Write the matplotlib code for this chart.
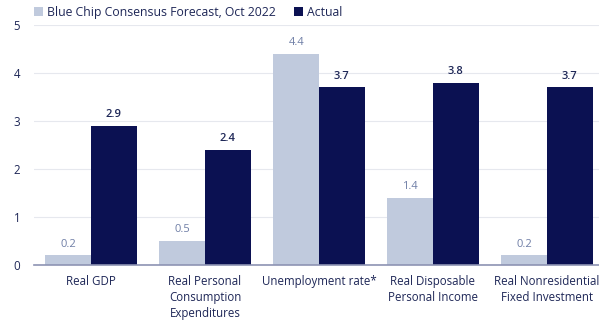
import numpy as np
import matplotlib
matplotlib.use("Agg")
import matplotlib.pyplot as plt

categories = ["Real GDP", "Real Personal\nConsumption\nExpenditures", "Unemployment rate*",
              "Real Disposable\nPersonal Income", "Real Nonresidential\nFixed Investment"]
forecast = [0.2, 0.5, 4.4, 1.4, 0.2]
actual = [2.9, 2.4, 3.7, 3.8, 3.7]
forecast_labels = ["0.2", "0.5", "4.4", "1.4", "0.2"]
actual_labels = ["2.9", "2.4", "3.7", "3.8", "3.7"]

light = "#c0cadd"
dark = "#0b1152"
text_col = "#1e2757"

plt.rcParams["font.family"] = ["Open Sans", "DejaVu Sans"]

fig = plt.figure(figsize=(5.99, 3.21), dpi=100)
ax = fig.add_axes([34 / 599, 1 - 265 / 321, 570 / 599, 240 / 321])

x = np.arange(len(categories))
w = 0.4
b1 = ax.bar(x - w / 2, forecast, w, color=light, label="Blue Chip Consensus Forecast, Oct 2022", zorder=2)
b2 = ax.bar(x + w / 2, actual, w, color=dark, label="Actual", zorder=2)

for rect, lab in zip(b1, forecast_labels):
    ax.text(rect.get_x() + rect.get_width() / 2, rect.get_height() + 0.12, lab,
            ha="center", va="bottom", fontsize=8, color="#6f7ea6")
for rect, lab in zip(b2, actual_labels):
    ax.text(rect.get_x() + rect.get_width() / 2, rect.get_height() + 0.12, lab,
            ha="center", va="bottom", fontsize=8, color=text_col, fontweight="semibold")

ax.set_xlim(-0.5, 4.5)
ax.set_ylim(0, 5)
ax.set_yticks(range(6))
ax.set_xticks(x)
ax.set_xticklabels(categories, fontsize=8.3, color=text_col, linespacing=1.3)
ax.tick_params(axis="y", labelsize=8.3, labelcolor=text_col, length=0, pad=10)
ax.tick_params(axis="x", length=0, pad=7)
ax.grid(axis="y", color="#e6e8ee", linewidth=0.8, zorder=0)
for s in ["top", "right", "left"]:
    ax.spines[s].set_visible(False)
ax.spines["bottom"].set_color("#8d93b3")
ax.spines["bottom"].set_linewidth(1.2)
ax.spines["bottom"].set_zorder(3)

ax.legend(loc="lower left", bbox_to_anchor=(-0.012, 0.995), ncol=2, frameon=False,
          fontsize=8.8, handlelength=0.7, handleheight=0.7, handletextpad=0.35,
          columnspacing=1.5, borderaxespad=0.2, labelcolor=text_col)

fig.savefig("out.png", dpi=100)
